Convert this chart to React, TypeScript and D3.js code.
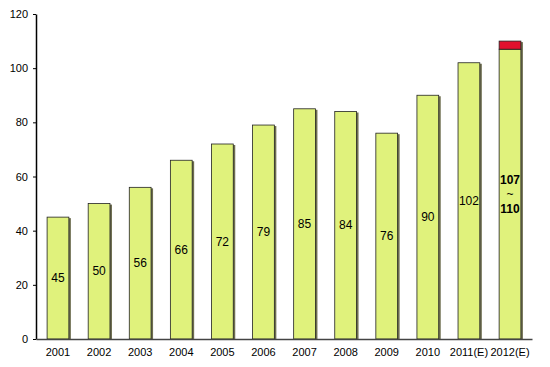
import { useEffect, useRef } from "react";
import * as d3 from "d3";

const years = ["2001", "2002", "2003", "2004", "2005", "2006", "2007", "2008", "2009", "2010", "2011(E)", "2012(E)"];
const values = [45, 50, 56, 66, 72, 79, 85, 84, 76, 90, 102, 107];
const upper = [null, null, null, null, null, null, null, null, null, null, null, 110];
const yTicks = [0, 20, 40, 60, 80, 100, 120];

const W = 550;
const H = 367;
const margin = { top: 14, right: 18, bottom: 28, left: 36 };

const App = () => {
    const svgRef = useRef<SVGSVGElement>(null);

    useEffect(() => {
        const svg = d3.select(svgRef.current);
        svg.selectAll("*").remove();

        const x = d3
            .scaleBand()
            .domain(years)
            .range([margin.left, W - margin.right])
            .paddingInner(0.47)
            .paddingOuter(0.27);

        const y = d3
            .scaleLinear()
            .domain([0, 120])
            .range([H - margin.bottom, margin.top]);

        const data = years.map((yr, i) => ({ yr, v: values[i], hi: upper[i] }));

        // shadow
        svg.append("g")
            .selectAll("rect")
            .data(data)
            .join("rect")
            .attr("x", d => x(d.yr)! + 2)
            .attr("y", d => y(d.hi ?? d.v) + 1)
            .attr("width", x.bandwidth())
            .attr("height", d => y(0) - y(d.hi ?? d.v) - 1)
            .attr("fill", "#6e6e50");

        svg.append("g")
            .selectAll("rect")
            .data(data)
            .join("rect")
            .attr("x", d => x(d.yr)!)
            .attr("y", d => y(d.v))
            .attr("width", x.bandwidth())
            .attr("height", d => y(0) - y(d.v))
            .attr("fill", "#e0f27c")
            .attr("stroke", "#222")
            .attr("stroke-width", 0.8);

        svg.append("g")
            .selectAll("rect")
            .data(data.filter(d => d.hi != null))
            .join("rect")
            .attr("x", d => x(d.yr)!)
            .attr("y", d => y(d.hi!))
            .attr("width", x.bandwidth())
            .attr("height", d => y(d.v) - y(d.hi!))
            .attr("fill", "#e2102e")
            .attr("stroke", "#222")
            .attr("stroke-width", 0.8);

        // value labels
        const lbl = svg.append("g")
            .attr("font-family", "Arial, 'Liberation Sans', sans-serif")
            .attr("font-size", 12)
            .attr("fill", "#000")
            .attr("text-anchor", "middle");

        data.forEach(d => {
            const cx = x(d.yr)! + x.bandwidth() / 2;
            const cy = (y(d.v) + y(0)) / 2;
            if (d.hi == null) {
                lbl.append("text").attr("x", cx).attr("y", cy).attr("dy", "0.35em").text(d.v);
            } else {
                lbl.append("text").attr("x", cx).attr("y", cy - 14).attr("dy", "0.35em").attr("font-weight", "bold").text(d.v);
                lbl.append("text").attr("x", cx).attr("y", cy).attr("dy", "0.35em").text("~");
                lbl.append("text").attr("x", cx).attr("y", cy + 15).attr("dy", "0.35em").attr("font-weight", "bold").text(d.hi);
            }
        });

        // axes
        const yAxis = svg.append("g")
            .attr("transform", `translate(${margin.left},0)`)
            .call(d3.axisLeft(y).tickValues(yTicks).tickSize(3).tickSizeOuter(0));
        yAxis.select(".domain").attr("stroke", "#000").attr("stroke-width", 1.5);
        yAxis.selectAll("text").attr("font-family", "Arial, 'Liberation Sans', sans-serif").attr("font-size", 11).attr("fill", "#000").attr("dx", "-2");

        const xAxis = svg.append("g")
            .attr("transform", `translate(0,${y(0)})`)
            .call(d3.axisBottom(x).tickSize(0).tickSizeOuter(0));
        xAxis.select(".domain").attr("stroke", "#444").attr("stroke-width", 1.5);
        xAxis.selectAll("text").attr("font-family", "Arial, 'Liberation Sans', sans-serif").attr("font-size", 11).attr("fill", "#000").attr("dy", "1.25em");
    }, []);

    return <svg ref={svgRef} width={W} height={H} style={{ position: "absolute", left: 0, top: 0 }} />;
};

export default App;
